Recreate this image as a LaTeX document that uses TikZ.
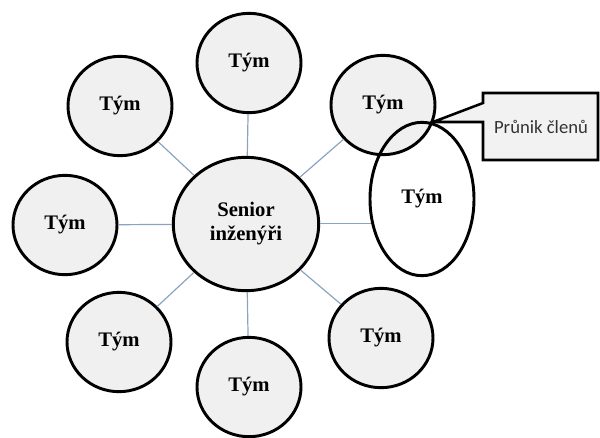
\documentclass[tikz,border=0pt]{standalone}
\usepackage{fontspec}
\setmainfont{Liberation Serif}
\newfontfamily\calloutfont{Carlito}
\usetikzlibrary{shapes.geometric}
\definecolor{bubblefill}{HTML}{F0F0F0}
\definecolor{linkblue}{HTML}{8AA4C0}
\definecolor{notefill}{HTML}{F2F2F2}
\definecolor{notetext}{HTML}{333333}
\begin{document}
\begin{tikzpicture}[x=0.75pt,y=-0.75pt,
  bubble/.style={ellipse,draw=black,line width=2.2pt,fill=bubblefill,inner sep=0pt,
    minimum width=78pt,minimum height=74.5pt,
    font=\fontsize{15.5}{17}\selectfont\bfseries},
  hub/.style={bubble,minimum width=109pt,minimum height=100pt,align=center,
    font=\fontsize{15.5}{18}\selectfont\bfseries},
  overlap/.style={bubble,fill=none,minimum width=78pt,minimum height=115pt},
  link/.style={draw=linkblue,line width=0.9pt},
  note/.style={draw=black,line width=1.9pt,fill=notefill,line join=miter}]
\useasboundingbox (0,0) rectangle (600,437);

% centre and surrounding teams
\node[hub] (c) at (246,224) {Senior\\inženýři};
\node[bubble] (t1) at (120,106) {Tým};
\node[bubble] (t2) at (249,63) {Tým};
\node[bubble] (t3) at (383,105) {Tým};
\node[bubble] (t5) at (381,338) {Tým};
\node[bubble] (t6) at (249,387) {Tým};
\node[bubble] (t7) at (119,342) {Tým};
\node[bubble] (t8) at (65,225) {Tým};
\node[overlap] (t4) at (422,199) {Tým};

% links from the centre
\draw[link] (c) -- (t1);
\draw[link] (c) -- (t2);
\draw[link] (c) -- (t3);
\draw[link] (c) -- (t5);
\draw[link] (c) -- (t6);
\draw[link] (c) -- (t7);
\draw[link] (c) -- (t8);
\draw[link] (t4.206) -- (t4.206 -| c.east);

% callout pointing at the overlap
\coordinate (tip) at (433,122);
\draw[note] (483,93) -- (598,93) -- (598,160) -- (483,160) -- (483,122)
  -- (tip) -- (483,103) -- cycle;
\node[font=\calloutfont\fontsize{14}{16}\selectfont,text=notetext] (lbl) at (541,127) {Průnik členů};
\end{tikzpicture}
\end{document}
